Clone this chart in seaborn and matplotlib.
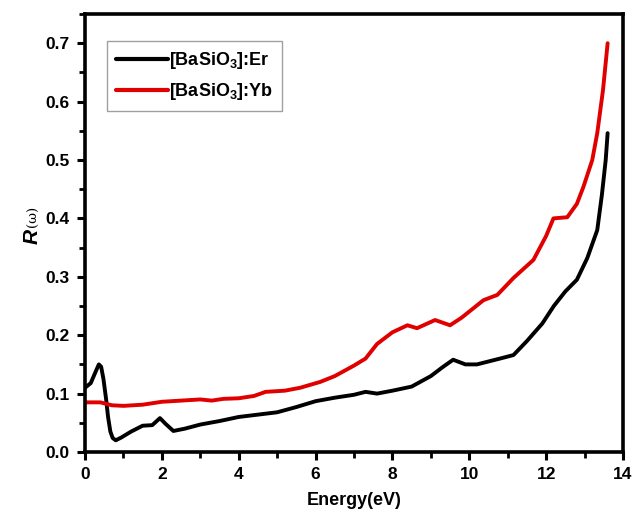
import numpy as np
import pandas as pd
import matplotlib
matplotlib.use("Agg")
import matplotlib.pyplot as plt
import seaborn as sns
from matplotlib.ticker import MultipleLocator

# Data
energy_er = [0.0, 0.15, 0.28, 0.36, 0.42, 0.48, 0.55, 0.6, 0.66, 0.72, 0.8, 0.95, 1.2, 1.5, 1.75, 1.95, 2.1, 2.3, 2.6,
             3.0, 3.5, 4.0, 4.5, 5.0, 5.5, 6.0, 6.5, 7.0, 7.3, 7.6, 8.0, 8.5, 9.0, 9.3, 9.58, 9.9, 10.2, 10.5, 10.8,
             11.15, 11.5, 11.9, 12.2, 12.5, 12.8, 13.07, 13.33, 13.45, 13.55, 13.6]
r_er = [0.11, 0.118, 0.138, 0.15, 0.146, 0.125, 0.09, 0.06, 0.035, 0.024, 0.02, 0.025, 0.035, 0.045, 0.046, 0.058,
        0.048, 0.036, 0.04, 0.047, 0.053, 0.06, 0.064, 0.068, 0.077, 0.087, 0.093, 0.098, 0.103, 0.1, 0.105, 0.112,
        0.13, 0.145, 0.158, 0.15, 0.15, 0.155, 0.16, 0.166, 0.19, 0.22, 0.25, 0.275, 0.295, 0.332, 0.38, 0.44, 0.5,
        0.546]

energy_yb = [0.0, 0.4, 0.7, 1.0, 1.5, 2.0, 2.5, 3.0, 3.3, 3.6, 4.0, 4.4, 4.7, 5.2, 5.6, 6.12, 6.5, 7.0, 7.3, 7.6, 8.0,
             8.39, 8.64, 9.11, 9.5, 9.8, 10.37, 10.73, 11.15, 11.67, 12.0, 12.19, 12.55, 12.8, 12.97, 13.2, 13.33,
             13.48, 13.6]
r_yb = [0.085, 0.085, 0.08, 0.079, 0.081, 0.086, 0.088, 0.09, 0.088, 0.091, 0.092, 0.096, 0.103, 0.105, 0.11, 0.12,
        0.13, 0.148, 0.16, 0.185, 0.205, 0.217, 0.212, 0.226, 0.217, 0.23, 0.26, 0.269, 0.298, 0.329, 0.37, 0.4,
        0.402, 0.425, 0.454, 0.5, 0.546, 0.62, 0.70]

labels = [r'[BaSiO$_\mathbf{3}$]:Er', r'[BaSiO$_\mathbf{3}$]:Yb']
colors = ['#000000', '#e00000']

df = pd.concat([
    pd.DataFrame({'Energy': energy_er, 'R': r_er, 'sample': labels[0]}),
    pd.DataFrame({'Energy': energy_yb, 'R': r_yb, 'sample': labels[1]}),
])

sns.set_style('white')
plt.rcParams['font.family'] = ['Liberation Sans', 'DejaVu Sans']
plt.rcParams['text.color'] = 'black'
plt.rcParams['axes.labelcolor'] = 'black'
plt.rcParams['xtick.color'] = 'black'
plt.rcParams['ytick.color'] = 'black'
plt.rcParams['mathtext.fontset'] = 'custom'
plt.rcParams['mathtext.rm'] = 'Liberation Sans'
plt.rcParams['mathtext.bf'] = 'Liberation Sans:bold'
plt.rcParams['mathtext.it'] = 'Liberation Sans:italic'

fig = plt.figure(figsize=(6.4, 5.2), dpi=100)
ax = fig.add_axes([85/640, 1 - 452/520, (623-85)/640, (452-14)/520])

sns.lineplot(data=df, x='Energy', y='R', hue='sample', palette=dict(zip(labels, colors)),
             linewidth=2.8, ax=ax, sort=False, estimator=None)

ax.set_xlim(0, 14)
ax.set_ylim(0, 0.75)
ax.xaxis.set_minor_locator(MultipleLocator(1))
ax.yaxis.set_minor_locator(MultipleLocator(0.05))
ax.set_yticks([0, 0.1, 0.2, 0.3, 0.4, 0.5, 0.6, 0.7])
ax.set_yticklabels(['0.0', '0.1', '0.2', '0.3', '0.4', '0.5', '0.6', '0.7'], fontweight='bold')
ax.set_xticks([0, 2, 4, 6, 8, 10, 12, 14])
ax.set_xticklabels(['0', '2', '4', '6', '8', '10', '12', '14'], fontweight='bold')
ax.tick_params(which='major', direction='out', length=6, width=2.2, bottom=True, left=True, labelsize=12.5,
               pad=5, colors='black')
ax.tick_params(which='minor', direction='out', length=4, width=2.0, bottom=True, left=True, colors='black')

for s in ax.spines.values():
    s.set_visible(True)
    s.set_linewidth(2.6)
    s.set_color('black')

ax.set_xlabel('Energy(eV)', fontsize=13, fontweight='bold', labelpad=7, color='black')
ax.set_ylabel('')
fig.text(32/640, 1 - 236/520, 'R', rotation=90, fontsize=15, fontweight='bold', fontstyle='italic',
         ha='center', va='center', color='black')
fig.text(33/640, 1 - 216/520, '(ω)', rotation=90, fontsize=9.5, ha='center', va='center',
         family=['DejaVu Serif'], color='black')

leg = ax.legend(loc='upper left', bbox_to_anchor=(22/538, 1 - 27/438), fontsize=13, frameon=True,
                fancybox=False, edgecolor='#888888', handlelength=2.9, borderpad=0.5, labelspacing=0.55,
                handletextpad=0.05, borderaxespad=0)
leg.get_frame().set_linewidth(1.0)
for t in leg.get_texts():
    t.set_fontweight('bold')
    t.set_color('black')
for l in leg.get_lines():
    l.set_linewidth(3.0)

fig.savefig('out.png', dpi=100)
